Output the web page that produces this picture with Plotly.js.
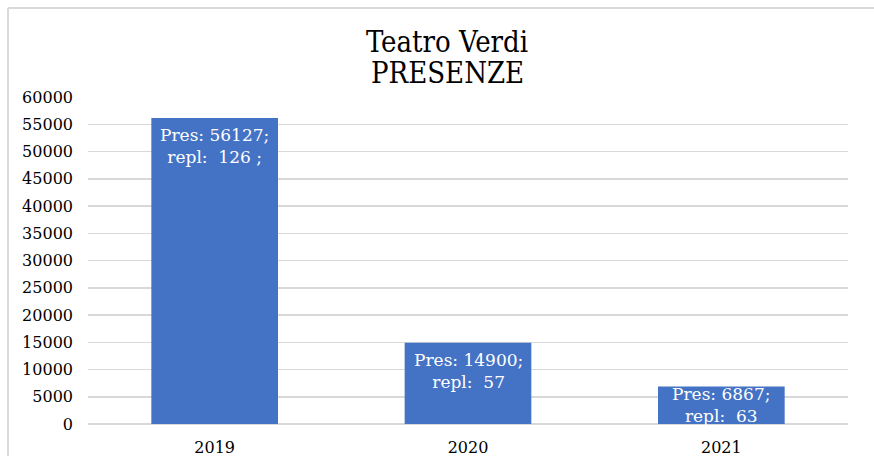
<!DOCTYPE html>
<html><head><meta charset="utf-8">
<script src="https://cdn.plot.ly/plotly-3.0.1.min.js"></script>
<style>html,body{margin:0;padding:0;background:#fff}#chart{width:874px;height:456px}</style>
</head><body><div id="chart"></div>
<script>
const years = ['2019', '2020', '2021'];
const presenze = [56127, 14900, 6867];
const repliche = [126, 57, 63];
const replSuffix = [' ;', '', ''];
const yTicks = [0,5000,10000,15000,20000,25000,30000,35000,40000,45000,50000,55000,60000];
const titleLines = ['Teatro Verdi', 'PRESENZE'];

const labels = years.map((y,i)=>'Pres: '+presenze[i]+';<br>repl:  '+repliche[i]+replSuffix[i]);

const W=874,H=456,L=88,R=26,T=97,B=32;
const pw=W-L-R, ph=H-T-B;
const yMax = 60000;
const px = x => (x-L)/pw;
const py = y => (H-B-y)/ph;
const titleFont = "'DejaVu Serif Condensed', 'DejaVu Serif', serif";
const bodyFont = "'DejaVu Serif', serif";

const labelAnns = years.map((y,i)=>{
  const hpx = presenze[i]/yMax*ph;
  const fits = hpx > 60;
  return {x:i, y: fits ? presenze[i] : presenze[i]/2, xref:'x', yref:'y',
          yanchor: fits ? 'top' : 'middle', yshift: fits ? -5 : 0,
          text: labels[i], showarrow:false, align:'center',
          font:{family:bodyFont, size:17, color:'#ffffff'}};
});

Plotly.newPlot('chart', [{
  type:'bar', x:years, y:presenze,
  marker:{color:'#4472C4'}, hoverinfo:'none'
}], {
  width:W, height:H, margin:{l:L,r:R,t:T,b:B},
  paper_bgcolor:'#fff', plot_bgcolor:'#fff',
  bargap:0.5, showlegend:false,
  title:{text:titleLines[0], x:447/W, xanchor:'center', xref:'container', y:1-42/H, yanchor:'middle',
         font:{family:titleFont, size:29, color:'#000'}},
  xaxis:{type:'category', range:[-0.5, years.length-0.5], showgrid:false, showline:false, zeroline:false, ticks:'', ticklabelstandoff:12,
         tickfont:{family:bodyFont, size:16, color:'#000'}},
  yaxis:{range:[0,yMax], tickvals:yTicks, ticktext:yTicks.map(String), showgrid:true, gridcolor:'#d9d9d9', gridwidth:1.5,
         zeroline:true, zerolinecolor:'#d9d9d9', zerolinewidth:1.5, showline:false, ticks:'', ticklabelstandoff:14,
         tickfont:{family:bodyFont, size:16, color:'#000'}},
  annotations: labelAnns.concat([
    {text:titleLines[1], xref:'paper', yref:'paper', x:px(447), y:py(73), xanchor:'center', yanchor:'middle',
     showarrow:false, font:{family:titleFont, size:29, color:'#000'}}
  ]),
  shapes:[
    {type:'line', xref:'paper', yref:'paper', x0:px(8), x1:px(874), y0:py(8), y1:py(8), line:{color:'#d9d9d9', width:2}},
    {type:'line', xref:'paper', yref:'paper', x0:px(8), x1:px(8), y0:py(8), y1:py(456), line:{color:'#d9d9d9', width:2}}
  ]
}, {staticPlot:true});
</script></body></html>
